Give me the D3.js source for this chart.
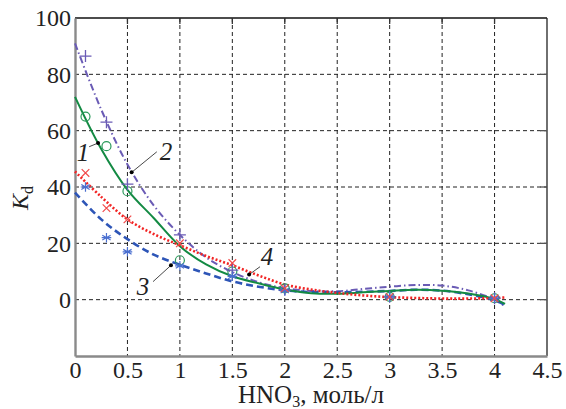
<!DOCTYPE html>
<html><head><meta charset="utf-8">
<script src="https://cdn.jsdelivr.net/npm/d3@7"></script>
<style>body{margin:0;background:#fff}svg{display:block}</style>
</head><body>
<svg id="c" width="566" height="409"></svg>
<script>
// ---- data ----
const xTicks = [0, 0.5, 1, 1.5, 2, 2.5, 3, 3.5, 4, 4.5];
const xTickLabels = ["0", "0.5", "1", "1.5", "2", "2.5", "3", "3.5", "4", "4.5"];
const yTicks = [0, 20, 40, 60, 80, 100];
const yGrid = [-20, 0, 20, 40, 60, 80, 100];

const pointX = [0.1, 0.3, 0.5, 1.0, 1.5, 2.0, 3.0, 4.0];
const points1 = [65, 54.5, 38.5, 14, 10, 4, 1, 0.5];     // green circles
const points2 = [86.5, 63, 41, 23, 10.5, 3.5, 1, 0.5];   // purple plus
const points3 = [40, 22, 17, 12, 8.3, 3.2, 1, 0.5];      // blue asterisks
const points4 = [45, 32.5, 28.5, 20, 13, 4, 1, 0.5];     // red crosses

const curveX = [0, 0.25, 0.5, 0.75, 1.0, 1.25, 1.5, 1.75, 2.0, 2.25, 2.5, 2.75, 3.0, 3.25, 3.5, 3.75, 4.0, 4.1];
const curve1 = [72, 53.5, 39, 29, 19, 12.5, 8.3, 5.8, 3.6, 2.3, 2.1, 2.6, 3.1, 3.5, 3.2, 2.2, 0.2, -1.5];
const curve2 = [91, 67.5, 48, 33.5, 23, 15, 9.8, 6.2, 4.1, 3.1, 3.0, 3.8, 4.6, 5.2, 5.0, 3.3, 0.0, -2.4];
const curve3 = [38, 28.5, 21.5, 16, 12.4, 9.3, 6.5, 4.6, 3.3, 2.7, 2.6, 2.8, 3.1, 3.5, 3.2, 1.9, -0.2, -1.9];
const curve4 = [45.5, 36.5, 28.5, 23.3, 19.3, 15.5, 12.2, 8.6, 5.4, 3.6, 2.4, 1.5, 0.9, 0.6, 0.4, 0.4, 0.6, 0.8];

const labelNames = ["1", "2", "3", "4"];
const labelX = [0.076, 0.868, 0.648, 1.83];
const labelY = [49.3, 49.7, 1.8, 12.4];
const leaderStartX = [0.135, 0.78, 0.744, 1.764];
const leaderStartY = [54.3, 52.5, 6.4, 11.7];
const leaderEndX = [0.22, 0.54, 0.915, 1.66];
const leaderEndY = [55.6, 45.2, 12.2, 8.9];

// ---- layout ----
const svg = d3.select("#c");
const L = 75, R = 547, T = 18, B = 356;
const x = d3.scaleLinear().domain([0, 4.5]).range([L, R]);
const y = d3.scaleLinear().domain([-20, 100]).range([B, T]);
const font = "'Liberation Serif','Times New Roman',serif";

// grid
const g = svg.append("g");
g.selectAll(".vg").data(xTicks.slice(1, -1)).enter().append("line")
  .attr("x1", d => x(d)).attr("x2", d => x(d)).attr("y1", T).attr("y2", B)
  .attr("stroke", "#222").attr("stroke-width", 1).attr("stroke-dasharray", "4,3");
g.selectAll(".hg").data(yGrid.slice(1, -1)).enter().append("line")
  .attr("x1", L).attr("x2", R).attr("y1", d => y(d)).attr("y2", d => y(d))
  .attr("stroke", "#222").attr("stroke-width", 1).attr("stroke-dasharray", "4,3");

// frame: top & right black, left & bottom grey
svg.append("line").attr("x1", L).attr("x2", R).attr("y1", T).attr("y2", T).attr("stroke", "#111").attr("stroke-width", 1.3);
svg.append("line").attr("x1", R).attr("x2", R).attr("y1", T).attr("y2", B).attr("stroke", "#222").attr("stroke-width", 1.3);
// right & top inner ticks
svg.selectAll(".rt").data(yGrid.slice(1, -1)).enter().append("line")
  .attr("x1", R - 7).attr("x2", R).attr("y1", d => y(d)).attr("y2", d => y(d))
  .attr("stroke", "#555").attr("stroke-width", 1.3);
svg.selectAll(".tt").data(xTicks.slice(1, -1)).enter().append("line")
  .attr("x1", d => x(d)).attr("x2", d => x(d)).attr("y1", T).attr("y2", T + 6)
  .attr("stroke", "#333").attr("stroke-width", 1.3);

// axes via d3
const xAxis = svg.append("g").attr("transform", `translate(0,${B})`)
  .call(d3.axisBottom(x).tickValues(xTicks).tickFormat((d, i) => xTickLabels[i]).tickSize(0).tickPadding(5));
const yAxis = svg.append("g").attr("transform", `translate(${L},0)`)
  .call(d3.axisLeft(y).tickValues(yTicks).tickFormat(d3.format("d")).tickSize(0).tickPadding(4));
[xAxis, yAxis].forEach(a => {
  a.select(".domain").attr("stroke", "#8a8a8a").attr("stroke-width", 2.4);
  a.selectAll("text").attr("font-family", font).attr("font-size", 24).attr("fill", "#222");
});

// curves
const line = d3.line().x(d => x(d[0])).y(d => y(d[1])).curve(d3.curveCatmullRom.alpha(0.5));
const series = [
  {c: curve2, color: "#6a5bb5", dash: "7,3,1.5,3", w: 2},
  {c: curve3, color: "#2d55b7", dash: "7,4", w: 2.6},
  {c: curve1, color: "#138a43", dash: null, w: 2},
  {c: curve4, color: "#f22424", dash: "2,2", w: 2.6},
];
series.forEach(s => {
  svg.append("path").datum(curveX.map((v, i) => [v, s.c[i]]))
    .attr("d", line).attr("fill", "none").attr("stroke", s.color)
    .attr("stroke-width", s.w).attr("stroke-dasharray", s.dash);
});

// markers
const m = svg.append("g");
pointX.forEach((px, i) => {
  m.append("circle").attr("cx", x(px)).attr("cy", y(points1[i])).attr("r", 4.5)
    .attr("fill", "none").attr("stroke", "#2a9a5a").attr("stroke-width", 1.2);
  const cx2 = x(px), cy2 = y(points2[i]);
  m.append("path").attr("d", `M${cx2-6},${cy2}H${cx2+6}M${cx2},${cy2-6}V${cy2+6}`)
    .attr("stroke", "#6a5bb5").attr("stroke-width", 1.3);
  const cx3 = x(px), cy3 = y(points3[i]), r3 = 4.8;
  let d3p = "";
  [0, 60, 120].forEach(a => {
    const rad = a * Math.PI / 180 + Math.PI / 2;
    d3p += `M${cx3 - r3*Math.cos(rad)},${cy3 - r3*Math.sin(rad)}L${cx3 + r3*Math.cos(rad)},${cy3 + r3*Math.sin(rad)}`;
  });
  d3p += `M${cx3-r3},${cy3}H${cx3+r3}`;
  m.append("path").attr("d", d3p).attr("stroke", "#4a6fd0").attr("stroke-width", 1.2);
  const cx4 = x(px), cy4 = y(points4[i]), r4 = 3.8;
  m.append("path").attr("d", `M${cx4-r4},${cy4-r4}L${cx4+r4},${cy4+r4}M${cx4-r4},${cy4+r4}L${cx4+r4},${cy4-r4}`)
    .attr("stroke", "#f24a4a").attr("stroke-width", 1.2);
});

// curve labels with leaders
labelNames.forEach((n, i) => {
  svg.append("line").attr("x1", x(leaderStartX[i])).attr("y1", y(leaderStartY[i]))
    .attr("x2", x(leaderEndX[i])).attr("y2", y(leaderEndY[i])).attr("stroke", "#333").attr("stroke-width", 0.9);
  svg.append("circle").attr("cx", x(leaderEndX[i])).attr("cy", y(leaderEndY[i])).attr("r", 2).attr("fill", "#000");
  svg.append("text").attr("x", x(labelX[i])).attr("y", y(labelY[i]))
    .attr("text-anchor", "middle").attr("font-family", font).attr("font-style", "italic")
    .attr("font-size", 25).attr("fill", "#222").text(n);
});

// axis titles
const xt = svg.append("text").attr("x", (L + R) / 2).attr("y", 403).attr("text-anchor", "middle")
  .attr("font-family", font).attr("font-size", 25).attr("fill", "#222");
xt.append("tspan").text("HNO");
xt.append("tspan").attr("font-size", 16).attr("dy", 3.5).text("3");
xt.append("tspan").attr("dy", -3.5).text(", моль/л");

const yt = svg.append("text").attr("transform", "translate(28,198) rotate(-90)").attr("text-anchor", "middle")
  .attr("font-family", font).attr("font-size", 24).attr("fill", "#222");
yt.append("tspan").attr("font-style", "italic").text("K");
yt.append("tspan").attr("font-size", 16).attr("dy", 5).text("d");
</script>
</body></html>
